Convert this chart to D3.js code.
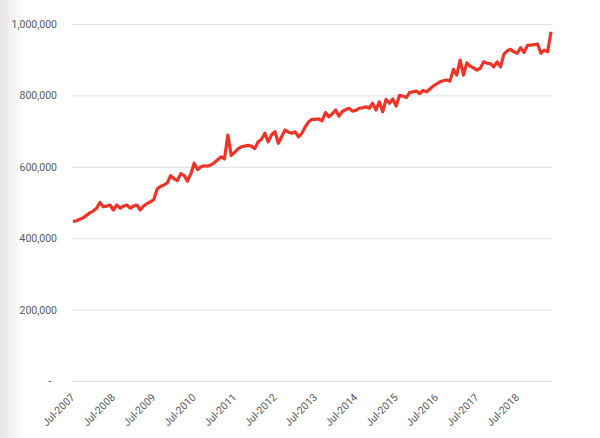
<!DOCTYPE html>
<html>
<head>
<meta charset="utf-8">
<script src="https://cdn.jsdelivr.net/npm/d3@7"></script>
<style>
  body { margin: 0; background: #fff; }
  svg text { font-family: Roboto, "Open Sans", sans-serif; fill: #595959; }
</style>
</head>
<body>
<svg id="chart" width="600" height="438"></svg>
<script>
// monthly values, Jul-2007 .. May-2019
const values = [
  446, 449, 453, 457, 464, 471, 476, 484, 500, 488, 490, 493,
  479, 493, 484, 490, 493, 484, 490, 493, 479, 490, 497, 502,
  508, 538, 545, 549, 555, 575, 567, 561, 581, 576, 560, 580,
  610, 592, 600, 603, 602, 605, 612, 620, 628, 622, 689, 632,
  640, 650, 656, 658, 660, 658, 651, 670, 677, 694, 670, 690,
  698, 666, 685, 703, 697, 694, 698, 684, 694, 712, 726, 733,
  733, 734, 729, 752, 740, 748, 759, 742, 755, 760, 764, 756,
  758, 764, 765, 768, 764, 778, 759, 782, 754, 789, 778, 790,
  770, 800, 798, 794, 808, 810, 812, 805, 814, 810, 818, 826,
  832, 838, 841, 843, 840, 873, 857, 899, 857, 891, 882, 877,
  871, 876, 894, 890, 889, 880, 894, 880, 915, 925, 929, 922,
  918, 934, 920, 940, 941, 942, 944, 918, 927, 922, 978
].map(v => v * 1000);

const months = d3.timeMonth.range(new Date(2007, 6, 1), new Date(2019, 5, 1));
const yTicks = [0, 200000, 400000, 600000, 800000, 1000000];

const svg = d3.select("#chart");
const width = 600;
const height = 438;
const plotLeft = 72, plotRight = 552, plotTop = 24, plotBottom = 381;

// faint shadow on the left edge
const grad = svg.append("defs").append("linearGradient")
    .attr("id", "edge").attr("x1", 0).attr("x2", 1);
grad.append("stop").attr("offset", 0).attr("stop-color", "#e6e6e6");
grad.append("stop").attr("offset", 1).attr("stop-color", "#ffffff");
svg.append("rect").attr("x", 0).attr("y", 0).attr("width", 24).attr("height", height)
    .attr("fill", "url(#edge)");

const x = d3.scalePoint().domain(d3.range(months.length)).range([plotLeft + 1, plotRight - 1]);
const y = d3.scaleLinear().domain([0, 1000000]).range([plotBottom, plotTop]);

// gridlines
svg.selectAll("line.grid")
    .data(yTicks)
    .enter().append("line")
    .attr("class", "grid")
    .attr("x1", plotLeft).attr("x2", plotRight)
    .attr("y1", d => y(d) + 0.5).attr("y2", d => y(d) + 0.5)
    .attr("stroke", "#dedede")
    .attr("stroke-width", 1);

// y labels (accounting style, zero shows as a dash)
svg.selectAll("text.ylab")
    .data(yTicks)
    .enter().append("text")
    .attr("class", "ylab")
    .attr("x", d => d === 0 ? 50 : 57)
    .attr("y", d => y(d) + 4)
    .attr("text-anchor", d => d === 0 ? "middle" : "end")
    .style("font-size", "10.5px")
    .text(d => d === 0 ? "-" : d3.format(",")(d));

// x labels every July
const fmt = d3.timeFormat("%b-%Y");
const xTicks = d3.range(0, months.length, 12);
svg.selectAll("text.xlab")
    .data(xTicks)
    .enter().append("text")
    .attr("class", "xlab")
    .attr("transform", d => `translate(${x(d) + 2.5},${plotBottom + 17}) rotate(-45)`)
    .attr("text-anchor", "end")
    .style("font-size", "10.5px")
    .text(d => fmt(months[d]));

// the series
const line = d3.line()
    .x((d, i) => x(i))
    .y(d => y(d));

svg.append("path")
    .datum(values)
    .attr("fill", "none")
    .attr("stroke", "#ee3427")
    .attr("stroke-width", 3.2)
    .attr("stroke-linejoin", "round")
    .attr("d", line);
</script>
</body>
</html>
